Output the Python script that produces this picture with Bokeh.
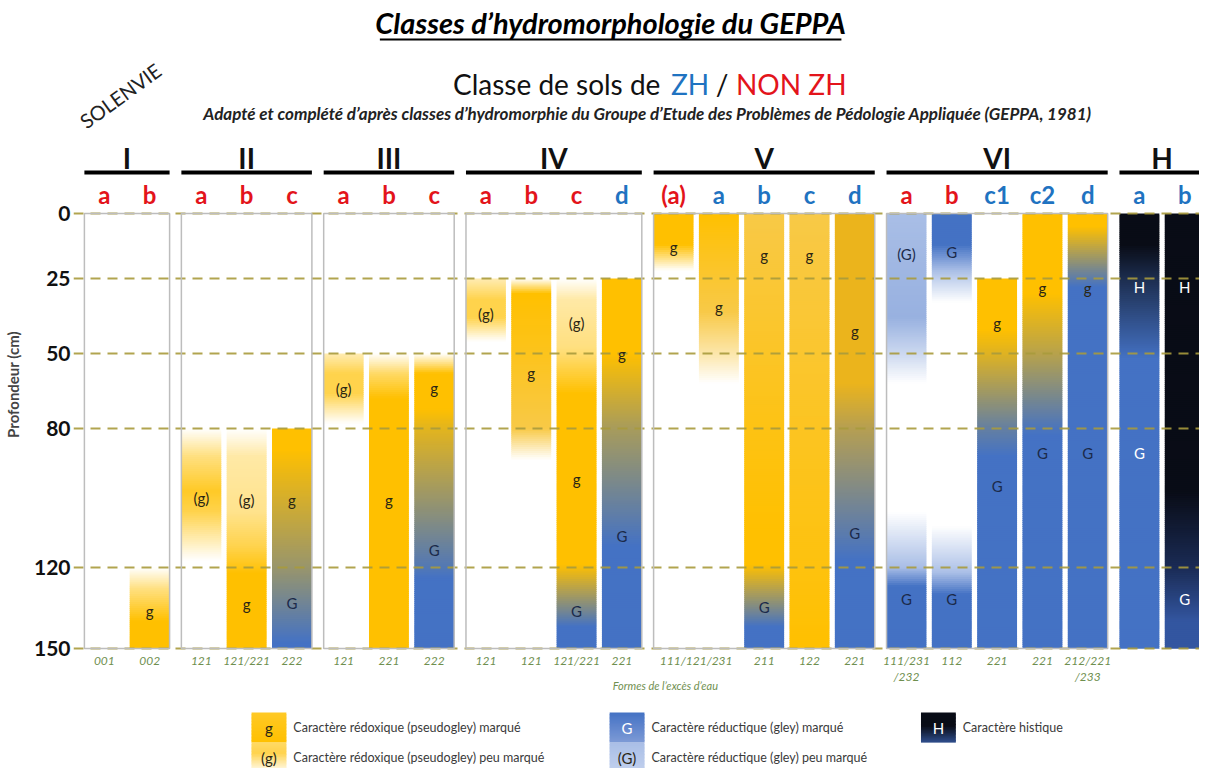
import numpy as np
from bokeh.plotting import figure
from bokeh.models import Range1d, FixedTicker
from bokeh.embed import file_html
from bokeh.resources import INLINE
from bokeh.core.properties import value

# ---------------- data ----------------
class_names = ["I", "II", "III", "IV", "V", "VI", "H"]
subclass_names = [["a", "b"], ["a", "b", "c"], ["a", "b", "c"], ["a", "b", "c", "d"],
                  ["(a)", "a", "b", "c", "d"], ["a", "b", "c1", "c2", "d"], ["a", "b"]]
subclass_is_zh = [[0, 0], [0, 0, 0], [0, 0, 0], [0, 0, 0, 1],
                  [0, 1, 1, 1, 1], [0, 0, 1, 1, 1], [1, 1]]
class_boxed = [1, 1, 1, 1, 1, 1, 0]

depth_ticks = [0, 25, 50, 80, 120, 150]

formes_line1 = ["001", "002", "121", "121/221", "222", "121", "221", "222",
                "121", "121", "121/221", "221", "111/121/231", "", "211", "122", "221",
                "111/231", "112", "221", "221", "212/221", "", ""]
formes_line2 = ["", "", "", "", "", "", "", "", "", "", "", "", "", "", "", "", "",
                "/232", "", "", "", "/233", "", ""]
formes_span = [1] * 12 + [2] + [1] * 11

# colour profiles of each column: (depth in cm, colour key)
profiles = [
    [],                                                                   # I a
    [(120, "W"), (128, "y50"), (140, "Y"), (150, "Y")],                   # I b
    [(80, "W"), (88, "y50"), (98, "y85"), (104, "y70"), (118, "W")],      # II a
    [(80, "W"), (88, "y35"), (104, "y45"), (114, "y70"), (122, "Y"), (150, "Y")],  # II b
    [(80, "Y"), (86, "Y"), (148, "B"), (150, "B")],                       # II c
    [(50, "y30"), (58, "y70"), (66, "y70"), (78, "W")],                   # III a
    [(50, "W"), (58, "y60"), (68, "Y"), (150, "Y")],                      # III b
    [(50, "W"), (58, "Y"), (72, "Y"), (124, "B"), (150, "B")],            # III c
    [(25, "y30"), (32, "y70"), (38, "y70"), (46, "W")],                   # IV a
    [(25, "W"), (30, "Y"), (80, "Yl"), (89, "W")],                        # IV b
    [(25, "W"), (32, "y35"), (48, "y50"), (66, "Y"), (119, "Y"), (142, "B"), (150, "B")],  # IV c
    [(25, "Y"), (50, "Y"), (114, "B"), (150, "B")],                       # IV d
    [(0, "Y"), (12, "Y"), (22, "W")],                                     # V (a)
    [(0, "Y"), (36, "Yl"), (62, "W")],                                    # V a
    [(0, "Yl"), (110, "Y"), (119, "Y"), (142, "B"), (150, "B")],          # V b
    [(0, "Yl"), (150, "Y")],                                              # V c
    [(0, "Yd"), (62, "Yd"), (118, "B"), (150, "B")],                      # V d
    [(0, "Bl"), (38, "Bl2"), (62, "W"), (104, "W"), (120, "Bl"), (127, "B"), (150, "B")],  # VI a
    [(0, "B"), (12, "B"), (22, "Bl"), (33, "W"), (108, "W"), (122, "Bl"), (130, "B"), (150, "B")],  # VI b
    [(25, "Y"), (42, "Y"), (88, "B"), (150, "B")],                        # VI c1
    [(0, "Y"), (30, "Y"), (82, "B"), (150, "B")],                         # VI c2
    [(0, "Y"), (5, "Y"), (28, "B"), (150, "B")],                          # VI d
    [(0, "K"), (12, "K"), (52, "B"), (150, "B")],                         # H a
    [(0, "K"), (98, "K"), (120, "Kn"), (140, "Bd"), (150, "Bd")],         # H b
]

# labels inside the columns: (column, text, depth cm, light text?)
mark_col = [1, 2, 3, 3, 4, 4, 5, 6, 7, 7, 8, 9, 10, 10, 10, 11, 11, 12, 13, 14, 14, 15,
            16, 16, 17, 17, 18, 18, 19, 19, 20, 20, 21, 21, 22, 22, 23, 23]
mark_text = ["g", "(g)", "(g)", "g", "g", "G", "(g)", "g", "g", "G", "(g)", "g", "(g)", "g", "G",
             "g", "G", "g", "g", "g", "G", "g", "g", "G", "(G)", "G", "G", "G", "g", "G",
             "g", "G", "g", "G", "H", "G", "H", "G"]
mark_depth = [136, 100, 100.7, 133.7, 100.6, 133, 64, 100.7, 63.6, 115, 36.7, 57.6, 39.8, 94.6, 136,
              50, 111, 13, 34.4, 16, 134.6, 16, 42.5, 110, 15.5, 131.5, 15, 131.5, 39.8, 96.5,
              28.2, 87, 28.2, 87, 27.7, 87, 27.7, 131.5]
mark_light = [0] * 34 + [1, 1, 1, 1]

legend_letters = ["g", "(g)", "G", "(G)", "H"]
legend_texts = ["Caractère rédoxique (pseudogley) marqué",
                "Caractère rédoxique (pseudogley) peu marqué",
                "Caractère réductique (gley) marqué",
                "Caractère réductique (gley) peu marqué",
                "Caractère histique"]
legend_grad = [[(0, "y85"), (1, "Y")],
               [(0, "y60"), (0.35, "y70"), (1, "W")],
               [(0, "B"), (1, "Bm")],
               [(0, "Bl"), (1, "Bl3")],
               [(0, "K"), (0.45, "K"), (1, "Bn")]]
legend_letter_light = [0, 0, 1, 0, 1]

# ---------------- styling / scales ----------------
FONT = "Lato"
RED = "#E3141B"
BLUE = "#1F73C1"
GREEN = "#6F8F4F"
GRID = "#A89A3C"
BASE = {"W": "#FFFFFF", "Y": "#FFC000", "Yl": "#F8C947", "Yd": "#EBB41C",
        "B": "#4472C4", "Bl": "#A9BEE6", "Bl2": "#98B1E0", "Bl3": "#C3D1EE", "Bm": "#7E9AD6",
        "K": "#090C16", "Kn": "#1A2B55", "Bd": "#3356A0", "Bn": "#2F4E8E"}


def hex_rgb(h):
    h = h.lstrip("#")
    return np.array([int(h[i:i + 2], 16) for i in (0, 2, 4)], float)


def rgb_hex(c):
    c = np.clip(np.round(c), 0, 255).astype(int)
    return "#%02x%02x%02x" % tuple(c)


PAL = {k: hex_rgb(v) for k, v in BASE.items()}
for s in (30, 35, 45, 50, 60, 70, 85):
    PAL["y%d" % s] = PAL["W"] + (PAL["Y"] - PAL["W"]) * s / 100.0


def color_at(stops, d):
    if d <= stops[0][0]:
        return PAL[stops[0][1]]
    for (d0, k0), (d1, k1) in zip(stops[:-1], stops[1:]):
        if d <= d1:
            t = 0.0 if d1 == d0 else (d - d0) / (d1 - d0)
            return PAL[k0] + (PAL[k1] - PAL[k0]) * t
    return PAL[stops[-1][1]]


# non-linear depth scale used by the original figure
DEPTH_POS = [0.0, 22.41, 48.28, 74.14, 122.07, 150.0]


def dmap(d):
    return float(np.interp(d, depth_ticks, DEPTH_POS))


def dinv(y):
    return float(np.interp(y, DEPTH_POS, depth_ticks))


X_PX0, X_PPU = 106.0, 45.56
Y_PX0, Y_PPU = 213.0, 2.9
FIG_TOP = 0      # page y of the figure's top edge
FIG_H = 768


def px2x(px):
    return (px - X_PX0) / X_PPU


def px2y(py):
    return (py - Y_PX0) / Y_PPU


GROUP_GAP = 0.14
HALF = 0.44

col_x, col_group, col_label, col_zh = [], [], [], []
k = 0
for g, subs in enumerate(subclass_names):
    for j, s in enumerate(subs):
        col_x.append(k + GROUP_GAP * g)
        col_group.append(g)
        col_label.append(s)
        col_zh.append(subclass_is_zh[g][j])
        k += 1
NCOL = len(col_x)

p = figure(width=1199, height=FIG_H, output_backend="svg", toolbar_location=None,
           x_range=Range1d(px2x(75), px2x(1207)),
           y_range=Range1d(px2y(FIG_TOP + FIG_H), px2y(FIG_TOP)),
           x_axis_location=None, title=None,
           min_border_left=67, min_border_right=0, min_border_top=0, min_border_bottom=0)
p.outline_line_color = None
p.xgrid.visible = False
p.ygrid.visible = False

ax = p.yaxis[0]
ax.ticker = FixedTicker(ticks=DEPTH_POS)
ax.major_label_overrides = {pos: str(d) for pos, d in zip(DEPTH_POS, depth_ticks)}
ax.axis_line_color = None
ax.major_tick_line_color = None
ax.minor_tick_line_color = None
ax.major_tick_out = 0
ax.major_tick_in = 0
ax.major_label_standoff = 3
ax.major_label_text_font = FONT
ax.major_label_text_font_style = "bold"
ax.major_label_text_font_size = "21px"
ax.major_label_text_color = "#111111"
ax.axis_label = "Profondeur (cm)"
ax.axis_label_text_font = FONT
ax.axis_label_text_font_style = "bold"
ax.axis_label_text_font_size = "15px"
ax.axis_label_standoff = 9

# ---------------- gradient bars ----------------
L, R, T, Bt, C = [], [], [], [], []


def add_grad(xl, xr, yt, yb, func, step=0.7):
    ys = np.arange(yt, yb, step)
    for y0 in ys:
        y1 = min(y0 + step, yb)
        L.append(xl)
        R.append(xr)
        T.append(y0)
        Bt.append(min(y1 + 0.3, yb))
        C.append(rgb_hex(func((y0 + y1) / 2.0)))


for i in range(NCOL):
    st = profiles[i]
    if not st:
        continue
    yt, yb = dmap(st[0][0]), dmap(st[-1][0])
    add_grad(col_x[i] - HALF, col_x[i] + HALF, yt, yb,
             lambda y, st=st: color_at(st, dinv(y)))

# legend swatches
leg_x = [254, 254, 614, 614, 927]
leg_y = [712, 742, 712, 742, 712]
SW_W, SW_H = 35, 30
for i in range(len(legend_letters)):
    yt, yb = px2y(leg_y[i]), px2y(leg_y[i] + SW_H)
    st = legend_grad[i]
    add_grad(px2x(leg_x[i]), px2x(leg_x[i] + SW_W), yt, yb,
             lambda y, st=st, yt=yt, yb=yb: color_at(st, (y - yt) / (yb - yt)), step=0.5)

p.quad(left=L, right=R, top=T, bottom=Bt, fill_color=C, line_color=None)

# dashed depth lines
p.segment(x0=[px2x(75)] * len(DEPTH_POS), x1=[px2x(1207)] * len(DEPTH_POS),
          y0=DEPTH_POS, y1=DEPTH_POS, line_color=GRID, line_width=2,
          line_dash="10 7", line_alpha=0.9)

# class boxes and header underlines
gx0, gx1, gc = [], [], []
for g in range(len(class_names)):
    xs = [col_x[i] for i in range(NCOL) if col_group[i] == g]
    gx0.append(min(xs) - HALF)
    gx1.append(max(xs) + HALF)
    gc.append((min(xs) + max(xs)) / 2.0)
bx = [g for g in range(len(class_names)) if class_boxed[g]]
p.quad(left=[gx0[g] for g in bx], right=[gx1[g] for g in bx],
       top=[dmap(0)] * len(bx), bottom=[dmap(150)] * len(bx),
       fill_color=None, line_color="#BDBDBD", line_width=1.5)

p.segment(x0=gx0, x1=[min(v, px2x(1207)) for v in gx1], y0=[px2y(172)] * len(gx0),
          y1=[px2y(172)] * len(gx0), line_color="black", line_width=4)
p.text(x=gc, y=[px2y(157)] * len(gc), text=class_names, text_font=value(FONT),
       text_font_style="bold", text_font_size="28px", text_align="center",
       text_baseline="middle", text_color="#111111")
p.text(x=col_x, y=[px2y(194)] * NCOL, text=col_label, text_font=value(FONT),
       text_font_style="bold", text_font_size="24px", text_align="center",
       text_baseline="middle", text_color=[BLUE if z else RED for z in col_zh])

# column marks
p.text(x=[col_x[c] for c in mark_col], y=[dmap(d) for d in mark_depth], text=mark_text,
       text_font=value(FONT), text_font_size="15px", text_align="center",
       text_baseline="middle",
       text_color=["#FFFFFF" if l else ("#1B2A4A" if t.strip("()") == "G" else "#2A2614")
                   for t, l in zip(mark_text, mark_light)])

# formes de l'excès d'eau
fx = [np.mean(col_x[i:i + formes_span[i]]) for i in range(NCOL)]
p.text(x=fx, y=[px2y(660)] * NCOL, text=formes_line1, text_font=value(FONT),
       text_font_style="italic", text_font_size="12px", text_align="center",
       text_baseline="middle", text_color=GREEN)
p.text(x=fx, y=[px2y(676)] * NCOL, text=formes_line2, text_font=value(FONT),
       text_font_style="italic", text_font_size="12px", text_align="center",
       text_baseline="middle", text_color=GREEN)
p.text(x=[px2x(670)], y=[px2y(685)], text=["Formes de l’excès d’eau"], text_font=value(FONT),
       text_font_style="italic", text_font_size="11px", text_align="center",
       text_baseline="middle", text_color=GREEN)

# legend texts
p.text(x=[px2x(x + SW_W / 2) for x in leg_x], y=[px2y(y + SW_H / 2) for y in leg_y],
       text=legend_letters, text_font=value(FONT), text_font_size="15px",
       text_align="center", text_baseline="middle",
       text_color=["#FFFFFF" if l else "#2A2614" for l in legend_letter_light])
p.text(x=[px2x(x + SW_W + 7) for x in leg_x], y=[px2y(y + SW_H / 2) for y in leg_y],
       text=legend_texts, text_font=value(FONT), text_font_size="12.5px",
       text_align="left", text_baseline="middle", text_color="#3a3a3a")

# titles
p.text(x=[px2x(615)], y=[px2y(22)], text=["Classes d’hydromorphologie du GEPPA"],
       text_font=value(FONT), text_font_style="bold italic", text_font_size="29px",
       text_align="center", text_baseline="middle", text_color="#000000")
p.segment(x0=[px2x(383)], x1=[px2x(847)], y0=[px2y(39)], y1=[px2y(39)],
          line_color="black", line_width=2)
p.text(x=[px2x(122)], y=[px2y(95)], text=["SOLENVIE"], angle=0.63, text_font=value(FONT),
       text_font_size="20px", text_align="center", text_baseline="middle", text_color="#222222")
p.text(x=[px2x(665)], y=[px2y(83)], text=["Classe de sols de"], text_font=value(FONT),
       text_font_size="28px", text_align="right", text_baseline="middle", text_color="#111111")
p.text(x=[px2x(714)], y=[px2y(83)], text=["ZH"], text_font=value(FONT),
       text_font_size="28px", text_align="right", text_baseline="middle", text_color=BLUE)
p.text(x=[px2x(727)], y=[px2y(83)], text=["/"], text_font=value(FONT),
       text_font_size="28px", text_align="center", text_baseline="middle", text_color="#111111")
p.text(x=[px2x(741)], y=[px2y(83)], text=["NON ZH"], text_font=value(FONT),
       text_font_size="28px", text_align="left", text_baseline="middle", text_color=RED)
p.text(x=[px2x(652)], y=[px2y(113)],
       text=["Adapté et complété d’après classes d’hydromorphie du Groupe d’Etude des Problèmes de Pédologie Appliquée (GEPPA, 1981)"],
       text_font=value(FONT), text_font_style="bold italic", text_font_size="17px",
       text_align="center", text_baseline="middle", text_color="#222222")

open("out.html", "w").write(file_html(p, INLINE))
